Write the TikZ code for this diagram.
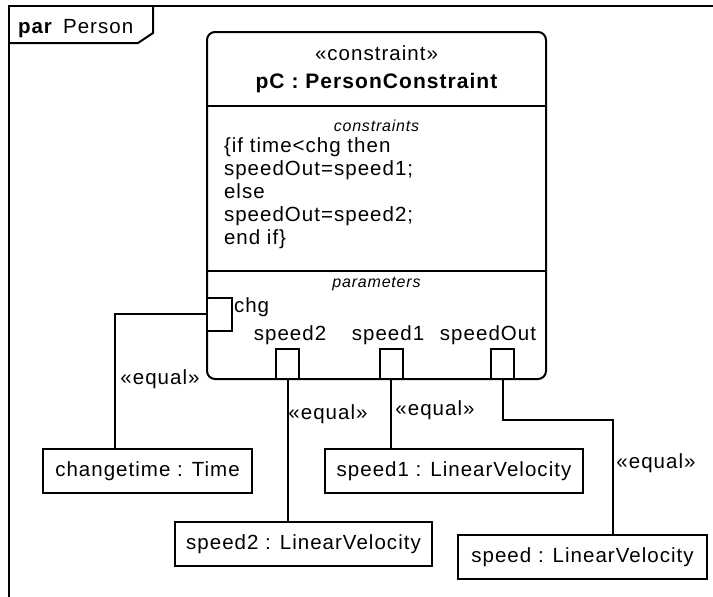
\documentclass[tikz,border=0pt]{standalone}
\usepackage{fontspec}
\setmainfont{Liberation Sans}[LetterSpace=5]
\usetikzlibrary{calc}

\begin{document}
\begin{tikzpicture}[
  x=1pt, y=-1pt,
  font=\fontsize{20.5}{23}\selectfont,
  line width=2pt,
  obj/.style={draw, minimum height=44pt, inner sep=0pt},
  port/.style={draw, fill=white, minimum width=23pt, minimum height=30pt, inner sep=0pt},
  lbl/.style={inner sep=0pt, text height=15pt, text depth=4pt},
  compart/.style={inner sep=0pt, font=\fontsize{16}{18}\selectfont\itshape},
  wire/.style={line width=2pt}
]
\useasboundingbox (0,0) rectangle (713,597);

% diagram frame
\draw (713,6) -- (9,6) -- (9,597);
\draw (9,43) -- (138,43) -- (153,33) -- (153,6);
\node[anchor=base west, inner sep=0pt] (frametitle) at (17,34) {\textbf{par}\, Person};

% constraint block
\node[draw, rounded corners=8pt, minimum width=339pt, minimum height=347pt, inner sep=0pt] (pc) at (376.5,205.5) {};
\node[lbl] (stereo) at (376.5,55) {«constraint»};
\node[lbl, font=\fontsize{21}{23}\selectfont\bfseries] (pcname) at (376.5,83) {pC : PersonConstraint};
\draw ($(pc.north west)+(0,75)$) -- ($(pc.north east)+(0,75)$);
\node[compart] (constrlbl) at (376.5,126) {constraints};
\foreach \t [count=\i] in {{\{if time<chg then}, {speedOut=speed1;}, {else}, {speedOut=speed2;}, {end if\}}}
  \node[anchor=base west, inner sep=0pt] (body\i) at (223,152+23*\i-23) {\t};
\draw ($(pc.north west)+(0,240)$) -- ($(pc.north east)+(0,240)$);
\node[compart] (paramlbl) at (376.5,284) {parameters};

% parameters
\node[port, minimum width=25pt, minimum height=33pt] (chg) at (219.5,314) {};
\node[lbl, anchor=west] (chglbl) at (233,307) {chg};
\node[port] (p2) at (287.5,364) {};
\node[port] (p1) at (391,364) {};
\node[port] (pout) at (502.5,364) {};
\node[lbl] (p2lbl) at (290,335) {speed2};
\node[lbl] (p1lbl) at (388,335) {speed1};
\node[lbl] (poutlbl) at (488,335) {speedOut};

% value properties
\node[obj, minimum width=209pt] (changetime) at (147.5,471) {changetime : Time};
\node[obj, minimum width=258pt] (s1) at (454,471) {speed1 : LinearVelocity};
\node[obj, minimum width=257pt] (s2) at (303.5,544) {speed2 : LinearVelocity};
\node[obj, minimum width=249pt] (sp) at (582.5,557) {speed : LinearVelocity};

% binding connectors
\draw[wire] (chg.west) -| ($(changetime.north west)!0.345!(changetime.north east)$);
\draw[wire] (p2.south) -- (p2.south |- s2.north);
\draw[wire] (p1.south) -- (p1.south |- s1.north);
\draw[wire] (pout.south) -- ++(0,40) -| ($(sp.north west)!0.622!(sp.north east)$);

\node[lbl] (eqchg) at (160,379) {«equal»};
\node[lbl] (eq2) at (328,414) {«equal»};
\node[lbl] (eq1) at (435,410) {«equal»};
\node[lbl] (eqout) at (656,463) {«equal»};
\end{tikzpicture}
\end{document}
